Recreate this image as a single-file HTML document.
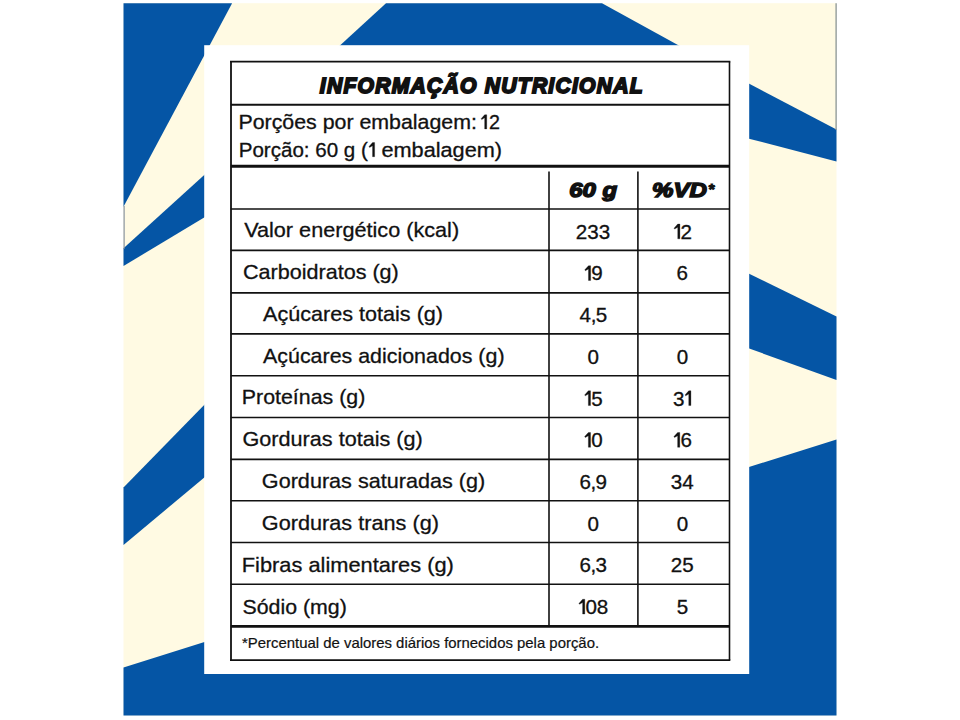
<!DOCTYPE html>
<html><head><meta charset="utf-8"><style>
html,body{margin:0;padding:0;background:#fff;width:960px;height:720px;overflow:hidden}
svg{display:block}
text{font-family:"Liberation Sans",sans-serif;fill:#111;stroke:#111}
</style></head><body>
<svg width="960" height="720" viewBox="0 0 960 720">
<rect x="123.5" y="3.2" width="713.0" height="712.3" fill="#fffae3"/>
<polygon points="123.50,3.20 232.10,3.20 123.50,206.70" fill="#0555a5"/>
<polygon points="386.00,3.20 602.00,3.20 687.00,50.00 335.00,50.00" fill="#0555a5"/>
<polygon points="210.00,169.70 123.50,248.30 123.50,266.00 210.00,214.00" fill="#0555a5"/>
<polygon points="210.00,399.10 123.50,487.50 123.50,545.00 210.00,472.70" fill="#0555a5"/>
<polygon points="123.50,667.50 210.00,640.20 210.00,670.00 745.00,670.00 745.00,468.30 836.50,439.50 836.50,715.50 123.50,715.50" fill="#0555a5"/>
<polygon points="745.00,81.60 836.50,129.60 836.50,161.40 745.00,137.70" fill="#0555a5"/>
<polygon points="745.00,271.70 836.50,316.50 836.50,380.00 745.00,347.00" fill="#0555a5"/>
<line x1="836.1" y1="3.2" x2="836.1" y2="130" stroke="#8a9596" stroke-width="1.3"/>
<line x1="124.1" y1="206" x2="124.1" y2="249" stroke="#7d8a99" stroke-width="1.1"/>
<rect x="204.2" y="45.2" width="545.0" height="628.8" fill="#ffffff"/>
<line x1="230.0" y1="61.6" x2="730.3" y2="61.6" stroke="#111" stroke-width="1.6"/>
<line x1="230.0" y1="660.2" x2="730.3" y2="660.2" stroke="#111" stroke-width="1.8"/>
<line x1="231.0" y1="61.6" x2="231.0" y2="660.2" stroke="#111" stroke-width="1.8"/>
<line x1="729.5" y1="61.6" x2="729.5" y2="660.2" stroke="#111" stroke-width="1.6"/>
<line x1="230.8" y1="104.8" x2="729.5" y2="104.8" stroke="#111" stroke-width="2.0"/>
<line x1="230.8" y1="166.3" x2="729.5" y2="166.3" stroke="#111" stroke-width="3.0"/>
<line x1="230.8" y1="209.0" x2="729.5" y2="209.0" stroke="#111" stroke-width="1.6"/>
<line x1="230.8" y1="250.4" x2="729.5" y2="250.4" stroke="#111" stroke-width="1.6"/>
<line x1="230.8" y1="292.9" x2="729.5" y2="292.9" stroke="#111" stroke-width="1.6"/>
<line x1="230.8" y1="333.9" x2="729.5" y2="333.9" stroke="#111" stroke-width="1.6"/>
<line x1="230.8" y1="375.8" x2="729.5" y2="375.8" stroke="#111" stroke-width="1.6"/>
<line x1="230.8" y1="417.5" x2="729.5" y2="417.5" stroke="#111" stroke-width="1.6"/>
<line x1="230.8" y1="459.4" x2="729.5" y2="459.4" stroke="#111" stroke-width="1.6"/>
<line x1="230.8" y1="500.8" x2="729.5" y2="500.8" stroke="#111" stroke-width="1.6"/>
<line x1="230.8" y1="542.5" x2="729.5" y2="542.5" stroke="#111" stroke-width="1.6"/>
<line x1="230.8" y1="584.2" x2="729.5" y2="584.2" stroke="#111" stroke-width="1.6"/>
<line x1="230.8" y1="626.4" x2="729.5" y2="626.4" stroke="#111" stroke-width="2.8"/>
<line x1="549.0" y1="171.5" x2="549.0" y2="626" stroke="#111" stroke-width="1.6"/>
<line x1="637.9" y1="171.5" x2="637.9" y2="626" stroke="#111" stroke-width="1.6"/>
<path d="M372.55,142.59 L374.61,142.59 L374.61,156.70 L372.55,156.70 L372.55,145.65 L369.59,147.42 L369.00,146.53 Z" fill="#111" stroke="#111" stroke-width="0.3"/>
<text transform="translate(319.87,93.3) scale(0.94,1)" x="0" y="0" font-size="22.5" textLength="343.36" lengthAdjust="spacing" font-weight="700" font-style="italic" style="stroke-width:1.9px">INFORMAÇÃO NUTRICIONAL</text>
<text x="238.43" y="128.9" font-size="19.7" textLength="238.48" lengthAdjust="spacingAndGlyphs" style="stroke-width:0.3px">Porções por embalagem:</text>
<path d="M484.67,114.79 L486.74,114.79 L486.74,128.90 L484.67,128.90 L484.67,117.85 L481.71,119.62 L481.12,118.73 Z" fill="#111" stroke="#111" stroke-width="0.3"/>
<text x="488.90" y="128.9" font-size="19.7" style="stroke-width:0.3px">2</text>
<text x="238.66" y="156.7" font-size="19.7" textLength="129.23" lengthAdjust="spacingAndGlyphs" style="stroke-width:0.3px">Porção: 60 g (</text>
<text x="381.42" y="156.7" font-size="19.7" textLength="120.69" lengthAdjust="spacingAndGlyphs" style="stroke-width:0.3px">embalagem)</text>
<text x="569.19" y="197.0" font-size="20.7" textLength="47.83" lengthAdjust="spacingAndGlyphs" font-weight="700" font-style="italic" style="stroke-width:1.5px">60 g</text>
<text x="652.08" y="197.0" font-size="20.7" textLength="54.72" lengthAdjust="spacingAndGlyphs" font-weight="700" font-style="italic" style="stroke-width:1.5px">%VD</text>
<text x="707.97" y="194.0" font-size="15.5" textLength="6.22" lengthAdjust="spacingAndGlyphs" font-weight="700" font-style="italic" style="stroke-width:0.9px">*</text>
<text x="244.15" y="236.7" font-size="21.1" textLength="215.00" lengthAdjust="spacingAndGlyphs" style="stroke-width:0.3px">Valor energético (kcal)</text>
<text x="575.85" y="238.8" font-size="20.6" style="stroke-width:0.3px">2</text>
<text x="587.31" y="238.8" font-size="20.6" style="stroke-width:0.3px">3</text>
<text x="598.76" y="238.8" font-size="20.6" style="stroke-width:0.3px">3</text>
<path d="M677.75,224.05 L679.91,224.05 L679.91,238.80 L677.75,238.80 L677.75,227.24 L674.66,229.10 L674.04,228.17 Z" fill="#111" stroke="#111" stroke-width="0.3"/>
<text x="680.53" y="238.8" font-size="20.6" style="stroke-width:0.3px">2</text>
<text x="243.00" y="278.64" font-size="21.1" textLength="155.77" lengthAdjust="spacingAndGlyphs" style="stroke-width:0.3px">Carboidratos (g)</text>
<path d="M588.48,265.74 L590.64,265.74 L590.64,280.49 L588.48,280.49 L588.48,268.93 L585.39,270.79 L584.77,269.86 Z" fill="#111" stroke="#111" stroke-width="0.3"/>
<text x="591.26" y="280.49" font-size="20.6" style="stroke-width:0.3px">9</text>
<text x="676.57" y="280.49" font-size="20.6" style="stroke-width:0.3px">6</text>
<text x="263.04" y="320.58" font-size="21.1" textLength="180.01" lengthAdjust="spacingAndGlyphs" style="stroke-width:0.3px">Açúcares totais (g)</text>
<text x="579.61" y="322.18" font-size="20.6" style="stroke-width:0.3px">4</text>
<text x="590.66" y="322.18" font-size="20.6" style="stroke-width:0.3px">,</text>
<text x="595.70" y="322.18" font-size="20.6" style="stroke-width:0.3px">5</text>
<text x="263.04" y="362.52" font-size="21.1" textLength="241.50" lengthAdjust="spacingAndGlyphs" style="stroke-width:0.3px">Açúcares adicionados (g)</text>
<text x="587.43" y="363.87" font-size="20.6" style="stroke-width:0.3px">0</text>
<text x="676.69" y="363.87" font-size="20.6" style="stroke-width:0.3px">0</text>
<text x="241.79" y="404.46" font-size="21.1" textLength="123.53" lengthAdjust="spacingAndGlyphs" style="stroke-width:0.3px">Proteínas (g)</text>
<path d="M588.37,390.81 L590.53,390.81 L590.53,405.56 L588.37,405.56 L588.37,394.00 L585.28,395.86 L584.66,394.93 Z" fill="#111" stroke="#111" stroke-width="0.3"/>
<text x="591.15" y="405.56" font-size="20.6" style="stroke-width:0.3px">5</text>
<text x="673.08" y="405.56" font-size="20.6" style="stroke-width:0.3px">3</text>
<path d="M688.76,390.81 L690.92,390.81 L690.92,405.56 L688.76,405.56 L688.76,394.00 L685.67,395.86 L685.05,394.93 Z" fill="#111" stroke="#111" stroke-width="0.3"/>
<text x="242.49" y="446.4" font-size="21.1" textLength="180.28" lengthAdjust="spacingAndGlyphs" style="stroke-width:0.3px">Gorduras totais (g)</text>
<path d="M588.38,432.50 L590.54,432.50 L590.54,447.25 L588.38,447.25 L588.38,435.69 L585.29,437.55 L584.67,436.62 Z" fill="#111" stroke="#111" stroke-width="0.3"/>
<text x="591.16" y="447.25" font-size="20.6" style="stroke-width:0.3px">0</text>
<path d="M677.64,432.50 L679.80,432.50 L679.80,447.25 L677.64,447.25 L677.64,435.69 L674.55,437.55 L673.93,436.62 Z" fill="#111" stroke="#111" stroke-width="0.3"/>
<text x="680.42" y="447.25" font-size="20.6" style="stroke-width:0.3px">6</text>
<text x="261.89" y="488.34" font-size="21.1" textLength="223.26" lengthAdjust="spacingAndGlyphs" style="stroke-width:0.3px">Gorduras saturadas (g)</text>
<text x="579.39" y="488.94" font-size="20.6" style="stroke-width:0.3px">6</text>
<text x="590.43" y="488.94" font-size="20.6" style="stroke-width:0.3px">,</text>
<text x="595.48" y="488.94" font-size="20.6" style="stroke-width:0.3px">9</text>
<text x="670.85" y="488.94" font-size="20.6" style="stroke-width:0.3px">3</text>
<text x="682.31" y="488.94" font-size="20.6" style="stroke-width:0.3px">4</text>
<text x="261.89" y="530.28" font-size="21.1" textLength="177.03" lengthAdjust="spacingAndGlyphs" style="stroke-width:0.3px">Gorduras trans (g)</text>
<text x="587.43" y="530.63" font-size="20.6" style="stroke-width:0.3px">0</text>
<text x="676.69" y="530.63" font-size="20.6" style="stroke-width:0.3px">0</text>
<text x="241.79" y="572.22" font-size="21.1" textLength="212.03" lengthAdjust="spacingAndGlyphs" style="stroke-width:0.3px">Fibras alimentares (g)</text>
<text x="579.38" y="572.3199999999999" font-size="20.6" style="stroke-width:0.3px">6</text>
<text x="590.42" y="572.3199999999999" font-size="20.6" style="stroke-width:0.3px">,</text>
<text x="595.47" y="572.3199999999999" font-size="20.6" style="stroke-width:0.3px">3</text>
<text x="670.85" y="572.3199999999999" font-size="20.6" style="stroke-width:0.3px">2</text>
<text x="682.31" y="572.3199999999999" font-size="20.6" style="stroke-width:0.3px">5</text>
<text x="242.49" y="614.16" font-size="21.1" textLength="104.30" lengthAdjust="spacingAndGlyphs" style="stroke-width:0.3px">Sódio (mg)</text>
<path d="M582.64,599.26 L584.80,599.26 L584.80,614.01 L582.64,614.01 L582.64,602.45 L579.55,604.31 L578.93,603.38 Z" fill="#111" stroke="#111" stroke-width="0.3"/>
<text x="585.42" y="614.01" font-size="20.6" style="stroke-width:0.3px">0</text>
<text x="596.87" y="614.01" font-size="20.6" style="stroke-width:0.3px">8</text>
<text x="676.68" y="614.01" font-size="20.6" style="stroke-width:0.3px">5</text>
<text x="242.06" y="648.1" font-size="14.8" textLength="357.01" lengthAdjust="spacingAndGlyphs" style="stroke-width:0.2px">*Percentual de valores diários fornecidos pela porção.</text>
</svg>
</body></html>
